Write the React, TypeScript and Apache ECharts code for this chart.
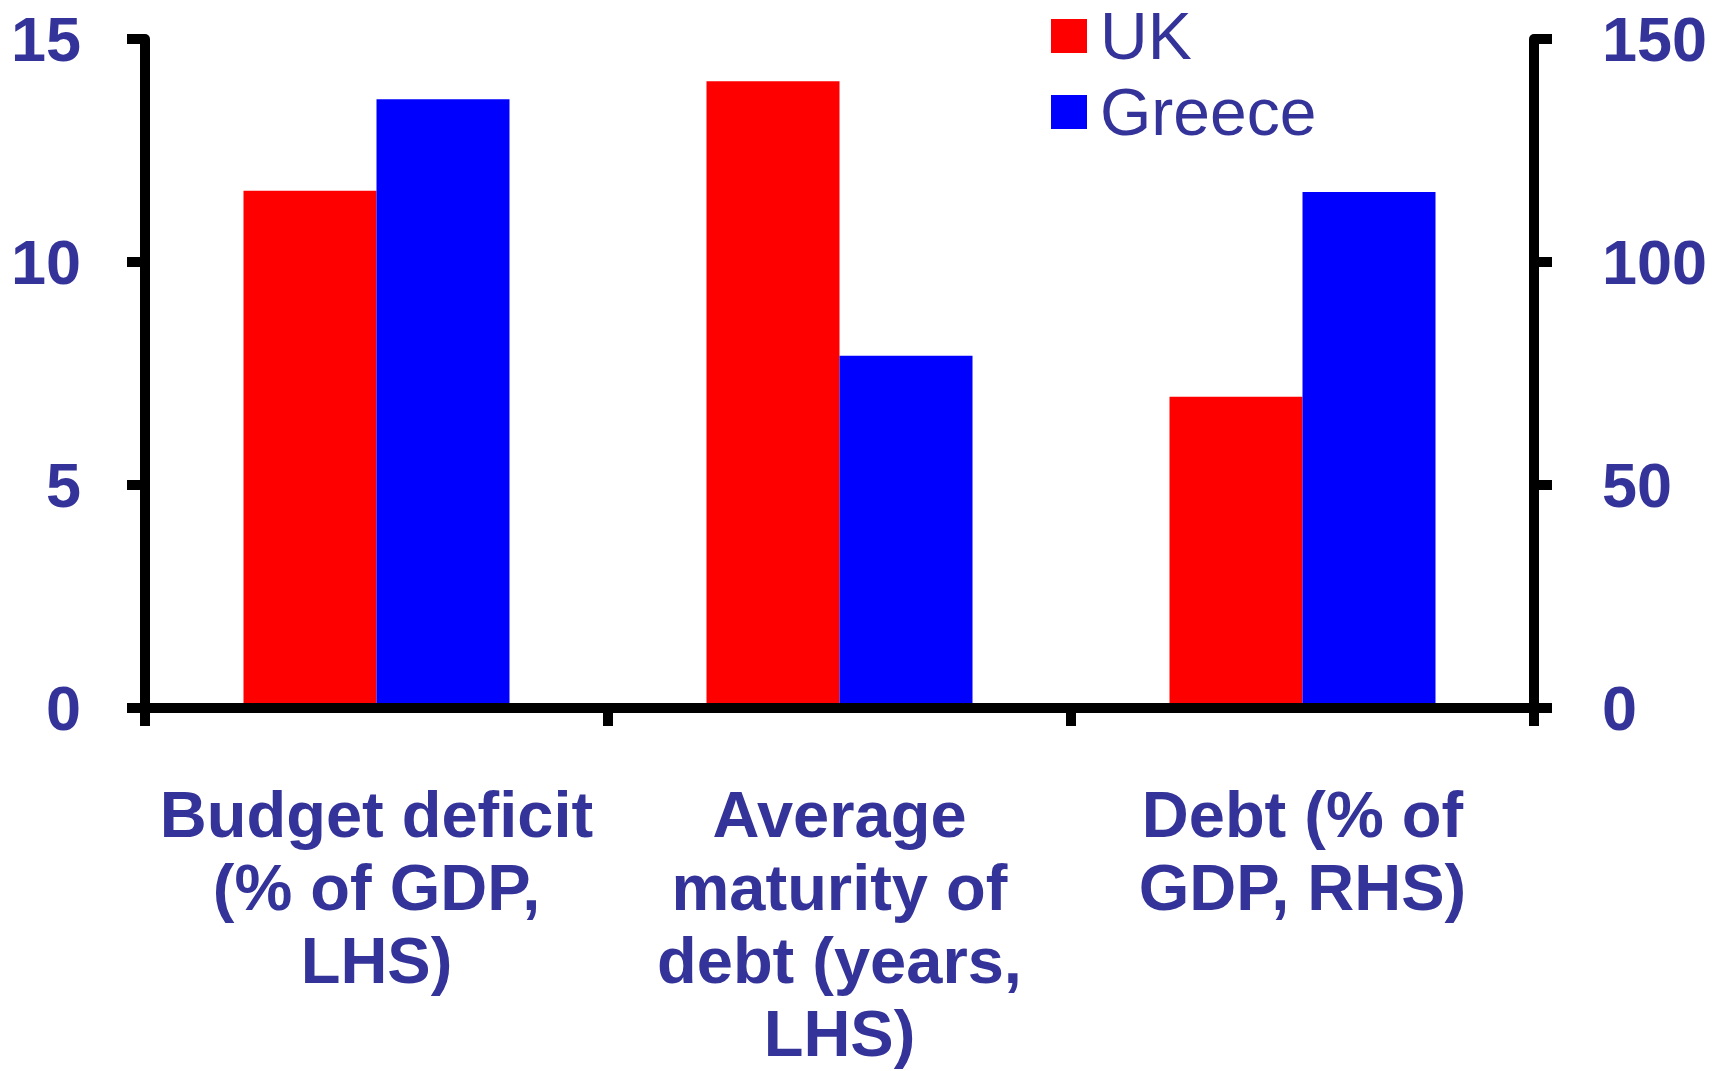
import React, { useEffect, useRef } from "react";
import * as echarts from "echarts";

const categories = [
  "Budget deficit\n(% of GDP,\nLHS)",
  "Average\nmaturity of\ndebt (years,\nLHS)",
  "Debt (% of\nGDP, RHS)",
];
// LHS values (budget deficit % of GDP, average maturity years)
const ukLeft = [11.6, 14.05, "-"];
const greeceLeft = [13.65, 7.9, "-"];
// RHS values (debt % of GDP)
const ukRight = ["-", "-", 69.8];
const greeceRight = ["-", "-", 115.7];

const leftAxis = { min: 0, max: 15, interval: 5 };
const rightAxis = { min: 0, max: 150, interval: 50 };

const TEXT = "#333399";
const FONT = "'Liberation Sans', Arial, sans-serif";

export default function App() {
  const ref = useRef<HTMLDivElement>(null);
  useEffect(() => {
    if (!ref.current) return;
    const chart = echarts.init(ref.current, null, { renderer: "svg" });
    const axisLine = { show: true, onZero: false, lineStyle: { color: "#000", width: 10 } };
    const axisTick = { show: true, inside: false, length: 18, lineStyle: { color: "#000", width: 10 } };
    const yLabel = { color: TEXT, fontSize: 63, fontWeight: "bold", fontFamily: FONT };
    chart.setOption({
      animation: false,
      backgroundColor: "#fff",
      grid: { left: 145, right: 195, top: 39, bottom: 363, outerBoundsMode: "none", containLabel: false },
      legend: {
        data: ["UK", "Greece"],
        orient: "vertical",
        left: 1051,
        top: 3,
        padding: 0,
        itemWidth: 36,
        itemHeight: 34,
        itemGap: 10,
        icon: "rect",
        textStyle: { color: TEXT, fontSize: 66, lineHeight: 54, fontFamily: FONT, padding: [0, 0, 0, 8] },
      },
      xAxis: {
        type: "category",
        data: categories,
        z: 10,
        axisLine,
        axisTick: { ...axisTick, alignWithLabel: false, interval: 0 },
        axisLabel: {
          interval: 0,
          color: TEXT,
          fontSize: 65,
          fontWeight: "bold",
          fontFamily: FONT,
          lineHeight: 73,
          margin: 70,
          align: "center",
        },
        splitLine: { show: false },
      },
      yAxis: [
        {
          type: "value",
          position: "left",
          ...leftAxis,
          z: 10,
          axisLine,
          axisTick,
          axisLabel: { ...yLabel, margin: 64 },
          splitLine: { show: false },
        },
        {
          type: "value",
          position: "right",
          ...rightAxis,
          z: 10,
          axisLine,
          axisTick,
          axisLabel: { ...yLabel, margin: 68 },
          splitLine: { show: false },
        },
      ],
      series: [
        { name: "UK", type: "bar", stack: "uk", yAxisIndex: 0, data: ukLeft, barWidth: 133, barGap: "0%", itemStyle: { color: "#FF0000" } },
        { name: "Greece", type: "bar", stack: "gr", yAxisIndex: 0, data: greeceLeft, barWidth: 133, barGap: "0%", itemStyle: { color: "#0000FF" } },
        { name: "UK", type: "bar", stack: "uk", yAxisIndex: 1, data: ukRight, barWidth: 133, barGap: "0%", itemStyle: { color: "#FF0000" } },
        { name: "Greece", type: "bar", stack: "gr", yAxisIndex: 1, data: greeceRight, barWidth: 133, barGap: "0%", itemStyle: { color: "#0000FF" } },
      ],
    });
    return () => chart.dispose();
  }, []);
  return (
    <div
      ref={ref}
      style={{ position: "absolute", left: 0, top: 0, width: 1729, height: 1071, background: "#fff" }}
    />
  );
}
